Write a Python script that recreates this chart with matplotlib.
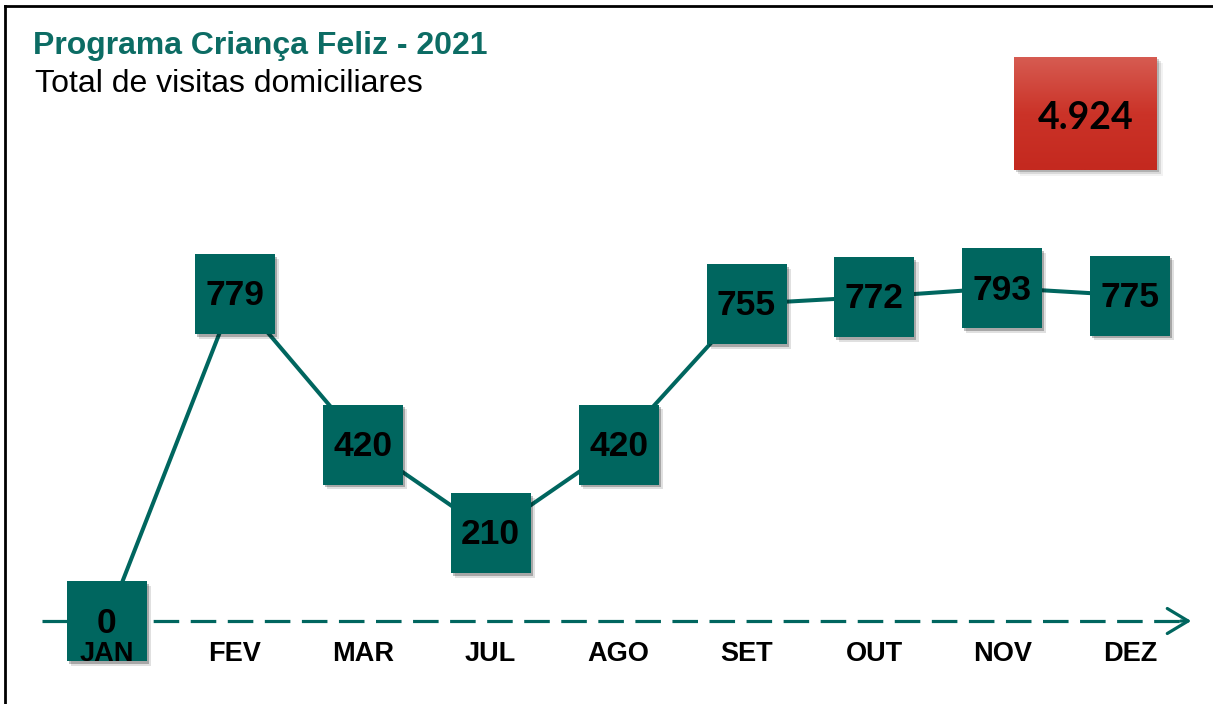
import numpy as np
import matplotlib.pyplot as plt
import matplotlib.patheffects as pe
from matplotlib.colors import LinearSegmentedColormap
from matplotlib.lines import Line2D
from matplotlib.patches import Rectangle
from matplotlib.transforms import blended_transform_factory

# ---- data ----
months = ["JAN", "FEV", "MAR", "JUL", "AGO", "SET", "OUT", "NOV", "DEZ"]
visits = [0, 779, 420, 210, 420, 755, 772, 793, 775]
total_label = "4.924"
title = "Programa Criança Feliz - 2021"
subtitle = "Total de visitas domiciliares"

TEAL = "#00665F"
W, H = 1213, 704

# ---- layout (pixels) ----
x0_px, dx_px = 107, 127.9      # first point x, spacing
y0_px, px_per_unit = 621, 0.42  # zero line (from top), scale

fig = plt.figure(figsize=(W / 100, H / 100), dpi=100)
ax = fig.add_axes([0, 0, 1, 1])
ax.axis("off")
ax.set_xlim(-x0_px / dx_px, (W - x0_px) / dx_px)
ax.set_ylim(-(H - y0_px) / px_per_unit, y0_px / px_per_unit)

x = np.arange(len(months))

# dashed baseline with arrow
btr = blended_transform_factory(ax.transAxes, ax.transData)
ax.plot([42 / W, 1190 / W], [0, 0], transform=btr, color=TEAL, lw=2.3,
        linestyle=(0, (8.0, 3.6)), solid_capstyle="butt", dash_capstyle="butt", zorder=1)
ax.annotate("", xy=(1194 / W, 0), xytext=(1178 / W, 0), xycoords=btr, textcoords=btr,
            arrowprops=dict(arrowstyle="->,head_length=0.75,head_width=0.45",
                            color=TEAL, lw=2.3, mutation_scale=20), zorder=1)

# connecting line
ax.plot(x, visits, color=TEAL, lw=2.9, zorder=2)

# square markers with soft shadow
shadow = [pe.SimplePatchShadow(offset=(1.5, -2), alpha=0.25, shadow_rgbFace="black"),
          pe.SimplePatchShadow(offset=(3, -3.5), alpha=0.12, shadow_rgbFace="black"),
          pe.Normal()]
ax.scatter(x, visits, marker="s", s=57.6 ** 2, color=TEAL, linewidths=0,
           zorder=3, path_effects=shadow)

for xi, v in zip(x, visits):
    ax.annotate(str(v), (xi, v), xytext=(0, -1.5), textcoords="offset points",
                ha="center", va="center", fontsize=25.5, fontweight="bold",
                family="Liberation Sans", color="black", zorder=4)

for xi, m in zip(x, months):
    ax.annotate(m, (xi, 0), xytext=(0, -23.5), textcoords="offset points",
                ha="center", va="center", fontsize=19.5, fontweight="bold",
                family="Liberation Sans", color="black", zorder=5)

# title and subtitle
fig.text(33 / W, 1 - 54 / H, title, ha="left", va="baseline", fontsize=23,
         fontweight="bold", family="Liberation Sans", color="#0C6C64")
fig.text(35 / W, 1 - 92 / H, subtitle, ha="left", va="baseline", fontsize=23,
         family="Liberation Sans", color="black")

# red total box with gradient and shadow
bx, by, bw, bh = 1014, 57, 143, 113
for off, a in [(2, 0.18), (4, 0.10), (6, 0.05)]:
    fig.patches.append(Rectangle(((bx + off) / W, 1 - (by + bh + off) / H), bw / W, bh / H,
                                 transform=fig.transFigure, color="black", alpha=a,
                                 lw=0, zorder=-1))
bax = fig.add_axes([bx / W, 1 - (by + bh) / H, bw / W, bh / H])
bax.axis("off")
cmap = LinearSegmentedColormap.from_list("red", ["#D65B51", "#CB3328", "#C4291F"])
bax.imshow(np.linspace(0, 1, 100).reshape(-1, 1), aspect="auto", cmap=cmap,
           extent=[0, 1, 0, 1], origin="upper")
bax.set_xlim(0, 1)
bax.set_ylim(0, 1)
bax.text(0.5, 0.46, total_label, ha="center", va="center", fontsize=27,
         fontweight="bold", family="Lato", color="black")

# frame (top and left only)
fig.add_artist(Line2D([5 / W, 1], [1 - 6 / H, 1 - 6 / H], transform=fig.transFigure,
                      color="black", lw=2))
fig.add_artist(Line2D([5 / W, 5 / W], [0, 1 - 6 / H], transform=fig.transFigure,
                      color="black", lw=2))

fig.savefig("out.png", dpi=100)
